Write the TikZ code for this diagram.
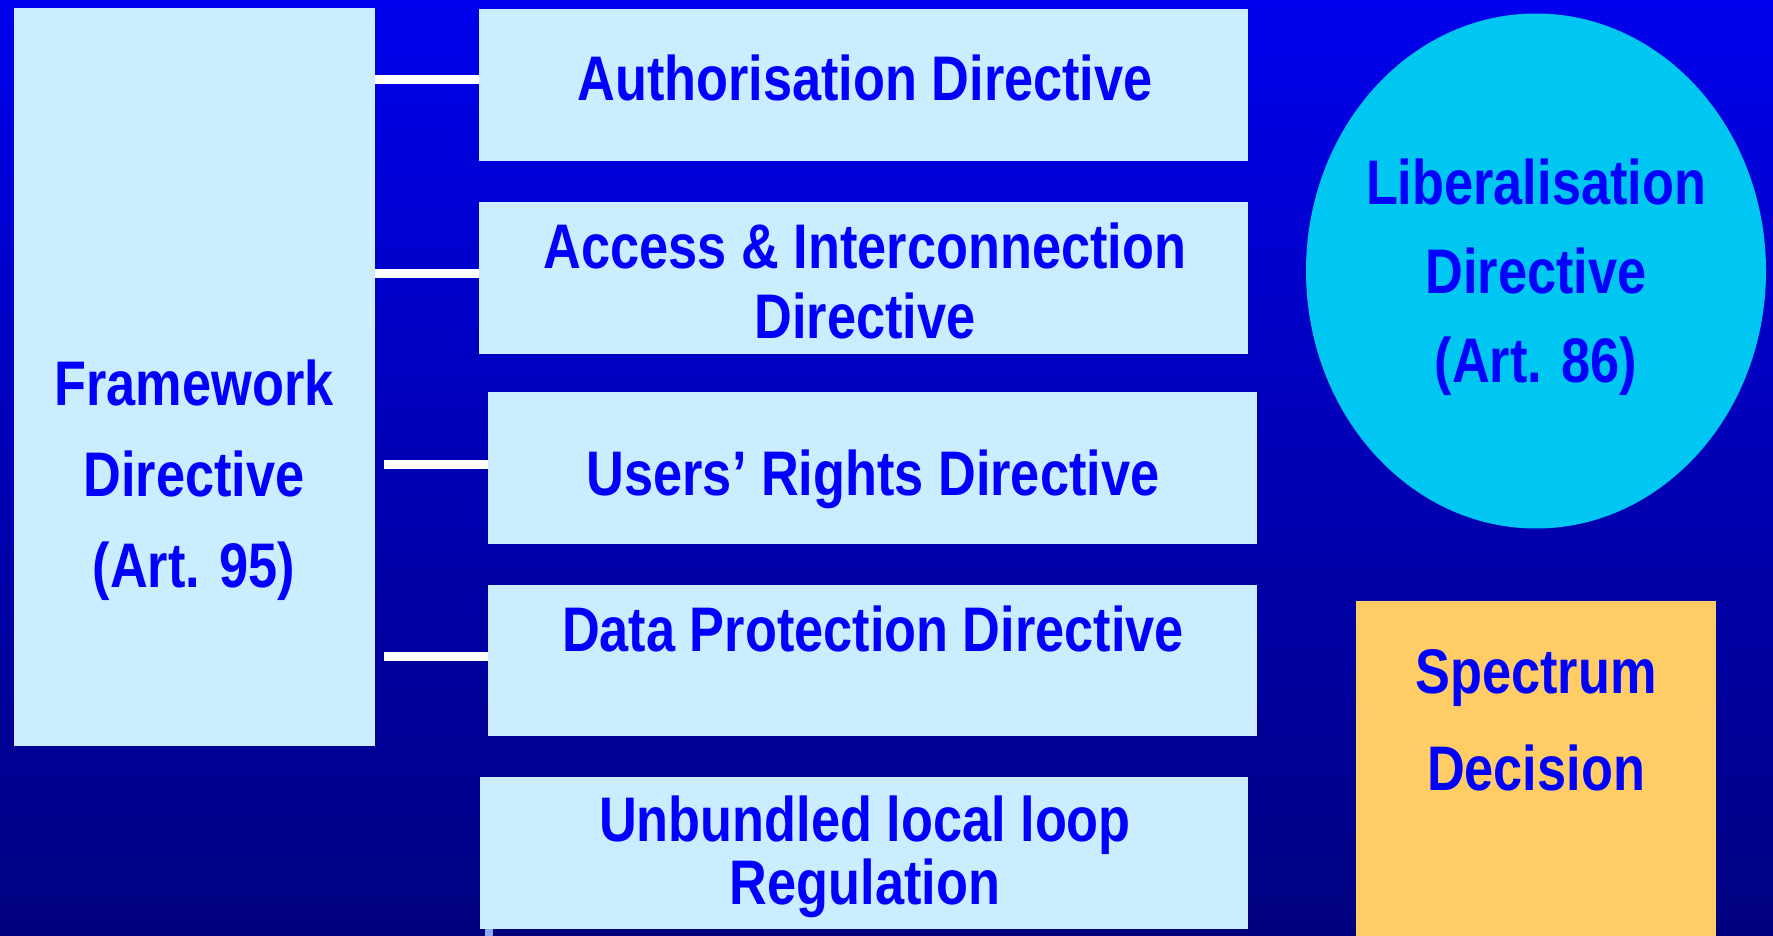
\documentclass[tikz,border=0pt]{standalone}
\usepackage{fontspec}
\setmainfont{Liberation Sans}[FakeStretch=0.83]
\usetikzlibrary{shapes.geometric}
\definecolor{bgtop}{RGB}{0,0,236}
\definecolor{bgbot}{RGB}{0,0,126}
\definecolor{paleblue}{RGB}{204,236,255}
\definecolor{cyanfill}{RGB}{0,198,242}
\definecolor{orangefill}{RGB}{255,204,102}
\definecolor{inkblue}{RGB}{0,0,255}
\definecolor{stubblue}{RGB}{136,170,238}
\begin{document}
\begin{tikzpicture}[x=1pt,y=-1pt,
  panel/.style={fill=paleblue, draw=none, inner sep=0pt, anchor=north west},
  label/.style={text=inkblue, align=center, inner sep=0pt,
    font=\fontsize{63}{70}\selectfont\bfseries},
  tall/.style={label, font=\fontsize{63}{91}\selectfont\bfseries},
  link/.style={draw=white, line width=9pt}]
\useasboundingbox (0,0) rectangle (1773,936);
% background
\shade[top color=bgtop, bottom color=bgbot] (0,0) rectangle (1773,936);

% framework column
\node[panel, minimum width=361pt, minimum height=738pt] (fw) at (14,8) {};
\node[tall] (fwtext) at (194,480) {Framework\\Directive\\(Art. 95)};

% specific directives
\node[panel, minimum width=769pt, minimum height=152pt] (auth) at (479,9) {};
\node[label] (authtext) at (865,78) {Authorisation Directive};

\node[panel, minimum width=769pt, minimum height=152pt] (acc) at (479,202) {};
\node[label] (acctext) at (865,281) {Access \& Interconnection\\Directive};

\node[panel, minimum width=769pt, minimum height=152pt] (usr) at (488,392) {};
\node[label] (usrtext) at (873,479) {Users’ Rights Directive};

\node[panel, minimum width=769pt, minimum height=151pt] (dat) at (488,585) {};
\node[label] (dattext) at (873,629) {Data Protection Directive};

\node[panel, minimum width=768pt, minimum height=152pt] (unb) at (480,777) {};
\node[label, font=\fontsize{63}{63}\selectfont\bfseries] (unbtext) at (865,857) {Unbundled local loop\\Regulation};

% liberalisation directive
\node[ellipse, fill=cyanfill, draw=none, minimum width=460pt, minimum height=515pt,
  inner sep=0pt] (lib) at (1536,271) {};
\node[label, font=\fontsize{63}{89}\selectfont\bfseries] (libtext) at (1536,277) {Liberalisation\\Directive\\(Art. 86)};

% spectrum decision
\node[panel, fill=orangefill, minimum width=360pt, minimum height=345pt] (spec) at (1356,601) {};
\node[label, font=\fontsize{63}{97}\selectfont\bfseries] (spectext) at (1536,720) {Spectrum\\Decision};

% links from the framework
\draw[link] (fw.east |- 0,79.5) -- (auth.west |- 0,79.5);
\draw[link] (fw.east |- 0,273.5) -- (acc.west |- 0,273.5);
\draw[link] ([xshift=9pt]fw.east |- 0,464) -- (usr.west |- 0,464);
\draw[link] ([xshift=9pt]fw.east |- 0,656) -- (dat.west |- 0,656);

% stub below the last box
\draw[stubblue, line width=8pt] ([xshift=9pt]unb.south west) -- ++(0,10);
\end{tikzpicture}
\end{document}
